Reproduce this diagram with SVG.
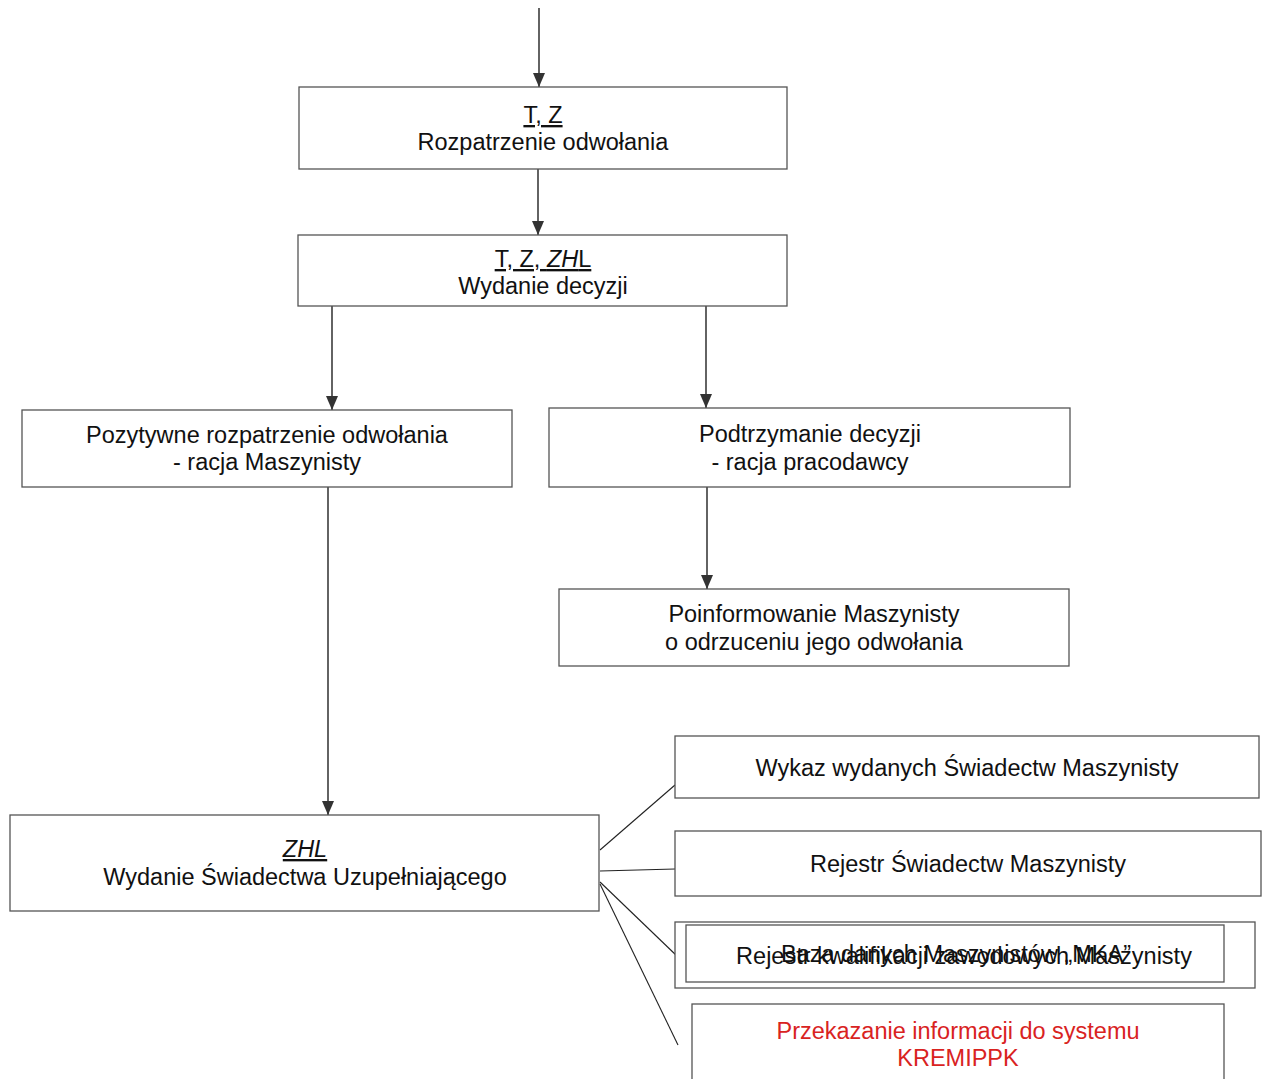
<svg xmlns="http://www.w3.org/2000/svg" width="1264" height="1079" viewBox="0 0 1264 1079">
<style>
.box{fill:#fff;stroke:#555;stroke-width:1.3}
.t{font-family:"Liberation Sans",Arial,sans-serif;font-size:23.5px;fill:#111;text-anchor:middle}
.u{text-decoration:underline}
.i{font-style:italic}
.red{fill:#d9231f}
.c{stroke:#222;stroke-width:1.4;fill:none}
.thin{stroke:#222;stroke-width:1.1;fill:none}
</style>
<defs>
<marker id="ah" markerWidth="14" markerHeight="12" refX="14" refY="6" orient="auto" markerUnits="userSpaceOnUse" viewBox="0 0 14 12">
<path d="M0,0 L14,6 L0,12 Z" fill="#333"/>
</marker>
</defs>
<rect width="1264" height="1079" fill="#fff"/>
<g id="connectors">
<line class="c" x1="539" y1="8" x2="539" y2="87" marker-end="url(#ah)"/>
<line class="c" x1="538" y1="169" x2="538" y2="235" marker-end="url(#ah)"/>
<line class="c" x1="332" y1="306" x2="332" y2="410" marker-end="url(#ah)"/>
<line class="c" x1="706" y1="306" x2="706" y2="408" marker-end="url(#ah)"/>
<line class="c" x1="707" y1="487" x2="707" y2="589" marker-end="url(#ah)"/>
<line class="c" x1="328" y1="487" x2="328" y2="815" marker-end="url(#ah)"/>
<line class="thin" x1="600" y1="850" x2="675" y2="785"/>
<line class="thin" x1="600" y1="871" x2="675" y2="869"/>
<line class="thin" x1="600" y1="882" x2="678" y2="957"/>
<line class="thin" x1="600" y1="884" x2="678" y2="1045"/>
</g>
<g id="n1">
<rect class="box" x="299" y="87" width="488" height="82"/>
<text class="t" x="543" y="123"><tspan class="u">T, Z</tspan></text>
<text class="t" x="543" y="150">Rozpatrzenie odwołania</text>
</g>
<g id="n2">
<rect class="box" x="298" y="235" width="489" height="71"/>
<text class="t" x="543" y="267"><tspan class="u">T, Z, </tspan><tspan class="u i">ZH</tspan><tspan class="u">L</tspan></text>
<text class="t" x="543" y="294">Wydanie decyzji</text>
</g>
<g id="n3">
<rect class="box" x="22" y="410" width="490" height="77"/>
<text class="t" x="267" y="443">Pozytywne rozpatrzenie odwołania</text>
<text class="t" x="267" y="470">- racja Maszynisty</text>
</g>
<g id="n4">
<rect class="box" x="549" y="408" width="521" height="79"/>
<text class="t" x="810" y="442">Podtrzymanie decyzji</text>
<text class="t" x="810" y="470">- racja pracodawcy</text>
</g>
<g id="n5">
<rect class="box" x="559" y="589" width="510" height="77"/>
<text class="t" x="814" y="622">Poinformowanie Maszynisty</text>
<text class="t" x="814" y="650">o odrzuceniu jego odwołania</text>
</g>
<g id="n6">
<rect class="box" x="10" y="815" width="589" height="96"/>
<text class="t" x="305" y="857"><tspan class="u i">ZHL</tspan></text>
<text class="t" x="305" y="885">Wydanie Świadectwa Uzupełniającego</text>
</g>
<g id="n7">
<rect class="box" x="675" y="736" width="584" height="62"/>
<text class="t" x="967" y="776">Wykaz wydanych Świadectw Maszynisty</text>
</g>
<g id="n8">
<rect class="box" x="675" y="831" width="586" height="65"/>
<text class="t" x="968" y="872">Rejestr Świadectw Maszynisty</text>
</g>
<g id="n9">
<rect class="box" x="675" y="922" width="580" height="66"/>
<rect class="box" x="686" y="925" width="538" height="57" fill="none"/>
<text class="t" x="964" y="964">Rejestr kwalifikacji zawodowych Maszynisty</text>
<text class="t" x="956" y="962">Baza danych Maszynistów „MKA”</text>
</g>
<g id="n10">
<rect class="box" x="692" y="1004" width="532" height="90"/>
<text class="t red" x="958" y="1039">Przekazanie informacji do systemu</text>
<text class="t red" x="958" y="1066">KREMIPPK</text>
</g>
</svg>
